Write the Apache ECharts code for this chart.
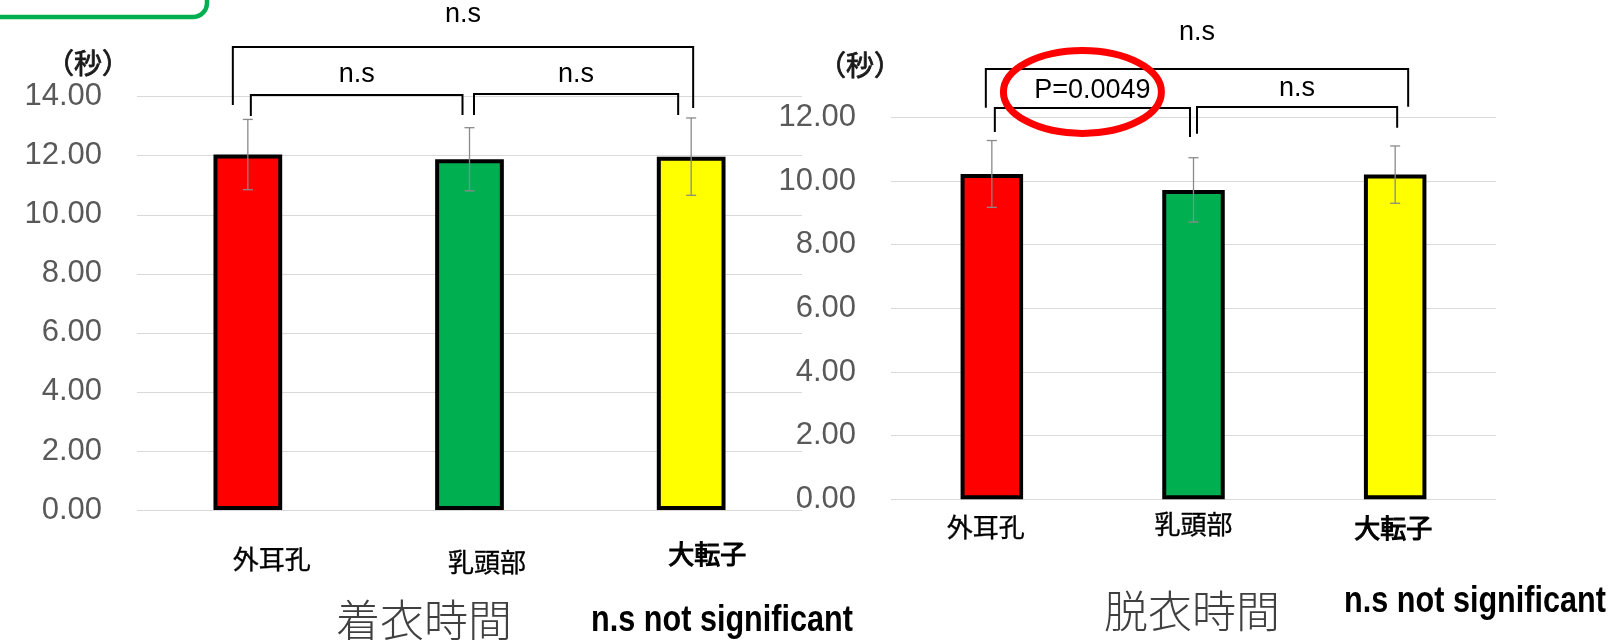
<!DOCTYPE html>
<html>
<head>
<meta charset="utf-8">
<script src="https://cdn.jsdelivr.net/npm/echarts@6/dist/echarts.min.js"></script>
<style>
  html, body { margin: 0; padding: 0; background: #ffffff; }
  #chart { width: 1612px; height: 640px; }
</style>
</head>
<body>
<div id="chart"></div>
<script>
// Measurement sites
const categories = ['外耳孔', '乳頭部', '大転子'];
const barColors = ['#FF0000', '#00B050', '#FFFF00'];

// 着衣時間 (seconds): mean and standard deviation per site
const donMeans = [12.04, 11.88, 11.97];
const donSD = [1.19, 1.07, 1.31];

// 脱衣時間 (seconds): mean and standard deviation per site
const doffMeans = [10.22, 9.72, 10.20];
const doffSD = [1.05, 1.01, 0.90];

// Value-axis ranges
const donAxis = { max: 14, step: 2 };
const doffAxis = { max: 12, step: 2 };

// Pairwise comparisons: [from site, to site, result]
const donTests = [[0, 2, 'n.s'], [0, 1, 'n.s'], [1, 2, 'n.s']];
const doffTests = [[0, 2, 'n.s'], [0, 1, 'P=0.0049'], [1, 2, 'n.s']];

// Panel titles and footnote
const panelTitles = ['着衣時間', '脱衣時間'];
const footnote = 'n.s not significant';
const unitLabel = '（秒）';

// ---- layout of the comparison brackets (axis units for heights, px nudges for ends)
const bracketLayout = [
  [
    { top: 15.68, legs: [13.72, 13.62], nudge: [-15, 2], text: 16.77 },
    { top: 14.06, legs: [13.35, 13.38], nudge: [3, -7], text: 14.74 },
    { top: 14.09, legs: [13.38, 13.38], nudge: [4.5, -13], text: 14.74 }
  ],
  [
    { top: 13.52, legs: [12.30, 12.33], nudge: [-6, 13], text: 14.65 },
    { top: 12.29, legs: [11.54, 11.38], nudge: [3, -3.5], text: 12.83 },
    { top: 12.32, legs: [11.48, 11.67], nudge: [3.5, 2], text: 12.89 }
  ]
];

const chart = echarts.init(document.getElementById('chart'), null, { renderer: 'canvas' });

const TICK_FONT = 'Liberation Sans';
const CJK_FONT = 'Noto Sans CJK JP';

function valueAxis(gridIndex, range) {
  return {
    type: 'value',
    gridIndex: gridIndex,
    min: 0,
    max: range.max,
    interval: range.step,
    axisLine: { show: false },
    axisTick: { show: false },
    splitLine: { lineStyle: { color: '#d9d9d9', width: 1 } },
    axisLabel: {
      margin: 35,
      fontFamily: TICK_FONT,
      fontSize: 31,
      color: '#595959',
      formatter: v => v.toFixed(2)
    }
  };
}

function categoryAxis(gridIndex, margin, rich) {
  return {
    type: 'category',
    gridIndex: gridIndex,
    data: categories,
    axisLine: { show: false },
    axisTick: { show: false },
    axisLabel: {
      margin: margin,
      interval: 0,
      formatter: (v, i) => '{s' + i + '|' + v + '}',
      rich: rich
    }
  };
}

const labelBase = {
  fontFamily: CJK_FONT, fontSize: 26, color: '#000000',
  textBorderColor: '#000000', textBorderWidth: 0.35
};
const heavier = { textBorderWidth: 1.1 };
const donRich = {
  s0: Object.assign({}, labelBase, { padding: [5, 0, 0, 48] }),
  s1: Object.assign({}, labelBase, { padding: [8, 0, 0, 35] }),
  s2: Object.assign({}, labelBase, heavier, { padding: [0, 0, 0, 32] })
};
const doffRich = {
  s0: Object.assign({}, labelBase, { padding: [3, 12, 0, 0] }),
  s1: Object.assign({}, labelBase, { padding: [0, 0, 0, 0] }),
  s2: Object.assign({}, labelBase, heavier, { padding: [4, 4, 0, 0] })
};

function barSeries(gridIndex, means) {
  return {
    type: 'bar',
    xAxisIndex: gridIndex,
    yAxisIndex: gridIndex,
    barWidth: '31%',
    data: means.map((m, i) => ({
      value: m,
      itemStyle: { color: barColors[i], borderColor: '#000000', borderWidth: 4 }
    })),
    z: 2
  };
}

function errorSeries(gridIndex, means, sd) {
  return {
    type: 'custom',
    xAxisIndex: gridIndex,
    yAxisIndex: gridIndex,
    data: means.map((m, i) => [i, m - sd[i], m + sd[i]]),
    encode: { x: 0, y: [1, 2] },
    z: 5,
    silent: true,
    renderItem: (params, api) => {
      const lo = api.coord([api.value(0), api.value(1)]);
      const hi = api.coord([api.value(0), api.value(2)]);
      const half = 5;
      const style = { stroke: '#8a8a8a', lineWidth: 1.3 };
      return {
        type: 'group',
        children: [
          { type: 'line', shape: { x1: lo[0], y1: lo[1], x2: hi[0], y2: hi[1] }, style: style },
          { type: 'line', shape: { x1: hi[0] - half, y1: hi[1], x2: hi[0] + half, y2: hi[1] }, style: style },
          { type: 'line', shape: { x1: lo[0] - half, y1: lo[1], x2: lo[0] + half, y2: lo[1] }, style: style }
        ]
      };
    }
  };
}

chart.setOption({
  animation: false,
  backgroundColor: '#ffffff',
  grid: [
    { left: 137, top: 96.7, width: 665, height: 413.3 },
    { left: 891, top: 117.3, width: 605, height: 382 }
  ],
  xAxis: [categoryAxis(0, 31, donRich), categoryAxis(1, 12, doffRich)],
  yAxis: [valueAxis(0, donAxis), valueAxis(1, doffAxis)],
  series: [
    barSeries(0, donMeans),
    errorSeries(0, donMeans, donSD),
    barSeries(1, doffMeans),
    errorSeries(1, doffMeans, doffSD)
  ]
});

// Brackets, result labels and panel texts placed from the axes' own scales
function buildAnnotations() {
  const elements = [];
  const tests = [donTests, doffTests];
  tests.forEach((list, g) => {
    list.forEach((t, k) => {
      const lay = bracketLayout[g][k];
      const a = chart.convertToPixel({ gridIndex: g }, [t[0], lay.top]);
      const b = chart.convertToPixel({ gridIndex: g }, [t[1], lay.top]);
      const legA = chart.convertToPixel({ gridIndex: g }, [t[0], lay.legs[0]]);
      const legB = chart.convertToPixel({ gridIndex: g }, [t[1], lay.legs[1]]);
      const xa = a[0] + lay.nudge[0];
      const xb = b[0] + lay.nudge[1];
      elements.push({
        type: 'polyline',
        shape: { points: [[xa, legA[1]], [xa, a[1]], [xb, a[1]], [xb, legB[1]]] },
        style: { stroke: '#000000', lineWidth: 2, fill: null },
        z: 10
      });
      const ty = chart.convertToPixel({ gridIndex: g }, [t[0], lay.text])[1];
      const tx = (xa + xb) / 2;
      elements.push({
        type: 'text',
        x: tx, y: ty,
        style: {
          text: t[2], fontFamily: TICK_FONT, fontSize: 27, fill: '#000000',
          align: 'center', verticalAlign: 'middle'
        },
        z: 11
      });
      if (t[2].indexOf('P=') === 0) {
        // red ring highlighting the significant comparison
        elements.push({
          type: 'ellipse',
          shape: { cx: tx - 10, cy: ty + 1, rx: 79, ry: 41.5 },
          style: { stroke: '#FF0000', lineWidth: 7, fill: null },
          z: 12
        });
      }
    });
  });

  // unit captions above each value axis
  const unitPos = [[88, 63], [860, 65]];
  unitPos.forEach(p => {
    elements.push({
      type: 'text', x: p[0], y: p[1],
      style: { text: unitLabel, fontFamily: CJK_FONT, fontSize: 28, fill: '#1a1a1a',
               stroke: '#1a1a1a', lineWidth: 0.8,
               align: 'center', verticalAlign: 'middle' }
    });
  });

  // panel titles
  const titlePos = [[424, 620], [1192, 611]];
  panelTitles.forEach((t, i) => {
    elements.push({
      type: 'text', x: titlePos[i][0], y: titlePos[i][1],
      style: { text: t, fontFamily: CJK_FONT, fontSize: 44, fontWeight: 300, fill: '#404040',
               align: 'center', verticalAlign: 'middle' }
    });
  });

  // footnotes
  const notePos = [[722, 621], [1475, 602]];
  notePos.forEach(p => {
    elements.push({
      type: 'text', x: p[0], y: p[1], scaleX: 0.85,
      style: { text: footnote, fontFamily: TICK_FONT, fontSize: 36, fontWeight: 'bold', fill: '#000000',
               align: 'center', verticalAlign: 'middle' }
    });
  });

  // green frame corner at the top left
  elements.push({
    type: 'rect',
    shape: { x: -20, y: -30, width: 227, height: 47, r: 14 },
    style: { stroke: '#00B050', lineWidth: 4.5, fill: null }
  });

  chart.setOption({ graphic: { elements: elements } });
}

buildAnnotations();
</script>
</body>
</html>
